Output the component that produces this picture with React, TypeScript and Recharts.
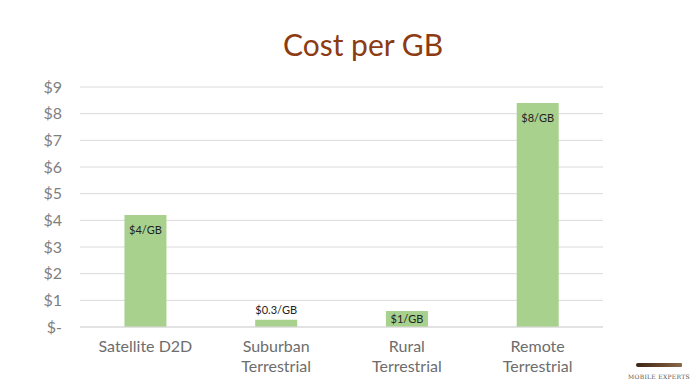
import React from "react";
import { BarChart, Bar, XAxis, YAxis, CartesianGrid, LabelList } from "recharts";

const categories = ["Satellite D2D", "Suburban\nTerrestrial", "Rural\nTerrestrial", "Remote\nTerrestrial"];
const costs = [4.2, 0.27, 0.6, 8.4];
const valueLabels = ["$4/GB", "$0.3/GB", "$1/GB", "$8/GB"];
const yTicks = [0, 1, 2, 3, 4, 5, 6, 7, 8, 9];

const data = categories.map((c, i) => ({ name: c, cost: costs[i], label: valueLabels[i] }));

const FONT = "Lato, 'Open Sans', sans-serif";

const XTick = (props: any) => {
  const { x, y, payload } = props;
  const lines = String(payload.value).split("\n");
  return (
    <g>
      {lines.map((l: string, i: number) => (
        <text key={i} x={x} y={y + 17 + i * 20} textAnchor="middle" fill="#6d6d6d" fontSize={16} fontFamily={FONT}>
          {l}
        </text>
      ))}
    </g>
  );
};

const BarLabel = (props: any) => {
  const { x, y, width, height, value } = props;
  let ty: number;
  if (height < 10) ty = y - 6;
  else if (height < 20) ty = y + height / 2 + 4;
  else ty = y + 19;
  return (
    <text x={x + width / 2} y={ty} textAnchor="middle" fill="#222" fontSize={11} fontFamily={FONT}>
      {value}
    </text>
  );
};

export default function App() {
  return (
    <div style={{ position: "absolute", left: 0, top: 0, width: 696, height: 385, background: "#fff" }}>
      <div
        style={{
          position: "absolute",
          left: 0,
          top: 26,
          width: 726,
          textAlign: "center",
          fontFamily: FONT,
          fontSize: 30,
          color: "#8c3b12",
          lineHeight: "36px",
        }}
      >
        Cost per GB
      </div>
      <BarChart
        width={696}
        height={385}
        data={data}
        margin={{ top: 87, right: 93, bottom: 8, left: 0 }}
        barCategoryGap="34%"
      >
        <CartesianGrid vertical={false} stroke="#d9d9d9" />
        <XAxis
          dataKey="name"
          axisLine={{ stroke: "#d9d9d9" }}
          tickLine={false}
          interval={0}
          height={50}
          tick={<XTick />}
        />
        <YAxis
          width={80}
          domain={[0, 9]}
          ticks={yTicks}
          axisLine={false}
          tickLine={false}
          tickMargin={12}
          tick={{ fill: "#7f7f7f", fontSize: 16, fontFamily: FONT }}
          tickFormatter={(v: number) => (v === 0 ? "$-" : `$${v}`)}
        />
        <Bar dataKey="cost" fill="#a9d18e" isAnimationActive={false}>
          <LabelList dataKey="label" content={<BarLabel />} />
        </Bar>
      </BarChart>
      <div
        style={{
          position: "absolute",
          left: 636,
          top: 363,
          width: 46,
          height: 4,
          background: "linear-gradient(90deg, #3a2516, #6b4a30 60%, #8a6a4a)",
          borderRadius: "2px 1px 1px 2px",
        }}
      />
      <div
        style={{
          position: "absolute",
          left: 626,
          top: 373,
          width: 66,
          textAlign: "center",
          fontFamily: "'DejaVu Serif', serif",
          fontSize: 6,
          letterSpacing: 0.3,
          color: "#555",
        }}
      >
        MOBILE EXPERTS
      </div>
    </div>
  );
}
